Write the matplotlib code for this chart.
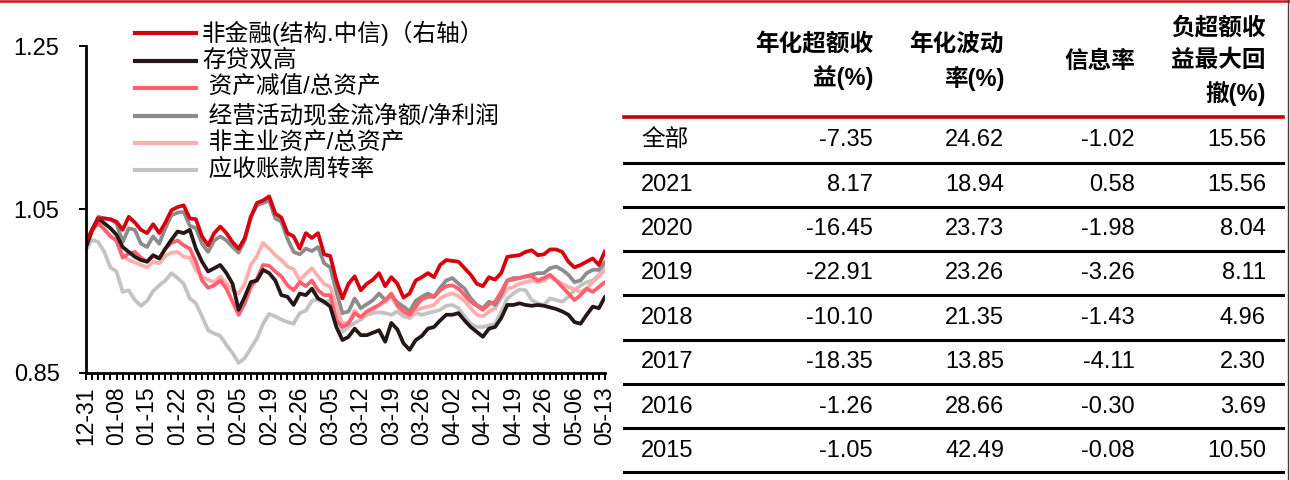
import matplotlib
matplotlib.use("Agg")
import matplotlib.pyplot as plt
from matplotlib.lines import Line2D

plt.rcParams['font.family'] = ['Liberation Sans', 'Noto Sans CJK SC', 'DejaVu Sans']
plt.rcParams['axes.unicode_minus'] = False

# ---------------- data ----------------
tick_labels = ["12-31", "01-08", "01-15", "01-22", "01-29", "02-05", "02-19", "02-26",
               "03-05", "03-12", "03-19", "03-26", "04-02", "04-12", "04-19", "04-26",
               "05-06", "05-13"]

red_nonfin = [1.010, 1.025, 1.039, 1.039, 1.038, 1.035, 1.025, 1.041, 1.034, 1.025, 1.021, 1.032, 1.021, 1.034, 1.049, 1.053, 1.055, 1.039, 1.038, 1.017, 1.006, 1.021, 1.029,
              1.021, 1.010, 1.002, 1.015, 1.041, 1.058, 1.061, 1.066, 1.045, 1.040, 1.021, 1.017, 1.002, 1.021, 1.015, 1.021, 0.995, 0.993, 0.963, 0.941, 0.959,
              0.968, 0.951, 0.959, 0.964, 0.972, 0.956, 0.967, 0.959, 0.942, 0.947, 0.963, 0.967, 0.972, 0.967, 0.982, 0.988, 0.987, 0.986, 0.978, 0.970, 0.959,
              0.956, 0.967, 0.964, 0.972, 0.992, 0.993, 0.994, 0.998, 1.000, 0.994, 0.995, 1.001, 1.001, 0.998, 0.986, 0.979, 0.982, 0.986, 0.990, 0.982, 0.999]

black_dual_high = [1.004, 1.025, 1.039, 1.033, 1.027, 1.019, 1.004, 0.998, 0.992, 0.988, 0.986, 0.994, 0.990, 1.002, 1.013, 1.023, 1.021, 1.025, 1.002, 0.986, 0.974, 0.978, 0.982,
                   0.972, 0.959, 0.927, 0.943, 0.961, 0.963, 0.976, 0.972, 0.963, 0.945, 0.943, 0.933, 0.947, 0.945, 0.953, 0.941, 0.937, 0.931, 0.906, 0.890, 0.894,
                   0.904, 0.896, 0.896, 0.899, 0.902, 0.888, 0.911, 0.903, 0.886, 0.878, 0.890, 0.895, 0.904, 0.906, 0.914, 0.921, 0.921, 0.923, 0.914, 0.906, 0.900,
                   0.894, 0.904, 0.906, 0.917, 0.933, 0.933, 0.935, 0.933, 0.932, 0.933, 0.932, 0.930, 0.928, 0.925, 0.921, 0.912, 0.910, 0.921, 0.931, 0.929, 0.943]

pink_impair = [1.008, 1.025, 1.033, 1.026, 1.017, 1.012, 0.991, 0.996, 0.998, 0.991, 0.986, 0.993, 0.990, 1.002, 1.009, 1.012, 1.006, 1.002, 0.986, 0.963, 0.954, 0.957, 0.963,
               0.953, 0.937, 0.921, 0.935, 0.955, 0.965, 0.982, 0.981, 0.974, 0.968, 0.957, 0.951, 0.961, 0.956, 0.963, 0.951, 0.945, 0.945, 0.914, 0.906, 0.910,
               0.923, 0.918, 0.925, 0.929, 0.933, 0.939, 0.947, 0.933, 0.925, 0.921, 0.931, 0.940, 0.943, 0.943, 0.951, 0.956, 0.957, 0.953, 0.945, 0.937, 0.932,
               0.927, 0.934, 0.937, 0.949, 0.963, 0.964, 0.966, 0.968, 0.968, 0.963, 0.966, 0.970, 0.963, 0.955, 0.947, 0.939, 0.945, 0.953, 0.949, 0.955, 0.961]

gray_cashflow = [1.004, 1.025, 1.041, 1.039, 1.038, 1.033, 1.010, 1.027, 1.025, 1.008, 1.004, 1.017, 1.008, 1.027, 1.043, 1.046, 1.047, 1.030, 1.027, 1.008, 0.998, 1.012, 1.017,
                 1.012, 1.004, 0.997, 1.012, 1.041, 1.055, 1.058, 1.061, 1.039, 1.035, 1.014, 0.998, 0.995, 1.002, 0.999, 1.004, 0.984, 0.979, 0.949, 0.923, 0.925,
                 0.941, 0.929, 0.934, 0.939, 0.947, 0.939, 0.945, 0.936, 0.931, 0.925, 0.938, 0.943, 0.947, 0.943, 0.954, 0.963, 0.966, 0.959, 0.953, 0.941, 0.933,
                 0.929, 0.937, 0.933, 0.945, 0.963, 0.966, 0.966, 0.968, 0.970, 0.972, 0.972, 0.978, 0.980, 0.976, 0.970, 0.961, 0.963, 0.972, 0.976, 0.976, 0.986]

lightpink_noncore = [1.004, 1.023, 1.033, 1.025, 1.017, 1.012, 0.994, 0.988, 0.985, 0.982, 0.979, 0.986, 0.984, 0.993, 0.997, 0.998, 0.992, 0.991, 0.976, 0.968, 0.964, 0.961, 0.968,
                     0.959, 0.951, 0.947, 0.959, 0.982, 0.993, 1.009, 1.002, 0.994, 0.988, 0.980, 0.977, 0.963, 0.971, 0.978, 0.968, 0.959, 0.955, 0.931, 0.910, 0.912,
                     0.926, 0.918, 0.922, 0.927, 0.933, 0.937, 0.943, 0.931, 0.923, 0.919, 0.926, 0.929, 0.931, 0.933, 0.941, 0.945, 0.947, 0.944, 0.938, 0.929, 0.921,
                     0.919, 0.925, 0.929, 0.941, 0.953, 0.955, 0.959, 0.961, 0.963, 0.961, 0.963, 0.968, 0.963, 0.959, 0.955, 0.952, 0.949, 0.953, 0.961, 0.968, 0.976]

lightgray_turnover = [1.000, 1.013, 1.010, 0.998, 0.979, 0.974, 0.949, 0.951, 0.939, 0.932, 0.938, 0.950, 0.957, 0.963, 0.972, 0.966, 0.959, 0.941, 0.935, 0.919, 0.902, 0.898, 0.895,
                      0.884, 0.874, 0.862, 0.868, 0.880, 0.892, 0.910, 0.922, 0.919, 0.915, 0.912, 0.910, 0.923, 0.926, 0.938, 0.940, 0.935, 0.939, 0.923, 0.900, 0.906,
                      0.911, 0.915, 0.921, 0.923, 0.924, 0.923, 0.921, 0.925, 0.919, 0.917, 0.923, 0.921, 0.923, 0.925, 0.927, 0.932, 0.933, 0.929, 0.919, 0.910, 0.906,
                      0.906, 0.908, 0.910, 0.925, 0.941, 0.947, 0.952, 0.951, 0.939, 0.935, 0.933, 0.941, 0.939, 0.937, 0.943, 0.951, 0.957, 0.961, 0.963, 0.970, 0.982]

series_labels = ["非金融(结构.中信)（右轴）", "存贷双高", " 资产减值/总资产",
                 " 经营活动现金流净额/净利润", " 非主业资产/总资产", " 应收账款周转率"]
series_colors = ["#D7000F", "#231815", "#FF6070", "#8C8C8C", "#FFAEAE", "#C3C3C3"]
series_values = [red_nonfin, black_dual_high, pink_impair, gray_cashflow,
                 lightpink_noncore, lightgray_turnover]

table_rows = ["全部", "2021", "2020", "2019", "2018", "2017", "2016", "2015"]
table_headers = ["年化超额收\n益(%)", "年化波动\n率(%)", "信息率", "负超额收\n益最大回\n撤(%)"]
ann_excess = [-7.35, 8.17, -16.45, -22.91, -10.10, -18.35, -1.26, -1.05]
ann_vol = [24.62, 18.94, 23.73, 23.26, 21.35, 13.85, 28.66, 42.49]
info_ratio = [-1.02, 0.58, -1.98, -3.26, -1.43, -4.11, -0.30, -0.08]
max_dd = [15.56, 15.56, 8.04, 8.11, 4.96, 2.30, 3.69, 10.50]

# ---------------- figure ----------------
W, H = 1290, 480
fig = plt.figure(figsize=(W / 100, H / 100), dpi=100)


def fx(x):
    return x / W


def fy(y):
    return 1 - y / H


ax = fig.add_axes([fx(86), fy(372.7), (605 - 86) / W, (372.7 - 46.2) / H])
xs = list(range(len(red_nonfin)))
for vals, color in reversed(list(zip(series_values, series_colors))):
    ax.plot(xs, vals, color=color, lw=2.7, solid_joinstyle='round', solid_capstyle='round')

ax.set_xlim(0, len(xs) - 1)
ax.set_ylim(0.85, 1.25)
ax.set_yticks([0.85, 1.05, 1.25])
ax.set_yticklabels(["0.85", "1.05", "1.25"])
ax.set_xticks(list(range(0, len(xs), 5)))
ax.set_xticklabels(tick_labels, rotation=90)
ax.set_xticks(xs, minor=True)
for s in ["top", "right"]:
    ax.spines[s].set_visible(False)
for s in ["left", "bottom"]:
    ax.spines[s].set_linewidth(2.0)
ax.tick_params(axis='both', which='both', direction='out', length=5, width=1.4, color='black')
ax.tick_params(axis='x', labelsize=16.5, pad=5)
ax.tick_params(axis='y', labelsize=17, pad=14)

# legend (manual placement)
legend_y = [33, 61, 88, 116, 143, 170]
for lab, col, y in zip(series_labels, series_colors, legend_y):
    fig.add_artist(Line2D([fx(135), fx(196)], [fy(y), fy(y)], color=col, lw=3.0,
                          transform=fig.transFigure))
    fig.text(fx(202), fy(y), lab, ha='left', va='center', fontsize=17)

# top red rule
fig.add_artist(Line2D([0, 1], [fy(1), fy(1)], color="#D0101A", lw=1.8, transform=fig.transFigure))
# right edge rule
fig.add_artist(Line2D([fx(1287.5), fx(1287.5)], [0, 1], color="#444444", lw=1.0, transform=fig.transFigure))

# ---------------- table ----------------
col_right = [873, 1004, 1135, 1266]
for hdr, xr in zip(table_headers, col_right):
    fig.text(fx(xr), fy(61.5), hdr, ha='right', va='center', fontsize=17,
             fontweight='bold', linespacing=1.5, multialignment='right')

fig.add_artist(Line2D([fx(624), fx(1283)], [fy(117), fy(117)], color="#C8000A", lw=2.6,
                      transform=fig.transFigure))
row_y = [140, 185, 229, 273, 318, 362, 407, 451]
sep_y = [163, 207, 251, 295, 340, 384, 428, 472]
for yy in sep_y:
    fig.add_artist(Line2D([fx(624), fx(1283)], [fy(yy), fy(yy)], color="black", lw=2.2,
                          transform=fig.transFigure))

for i, name in enumerate(table_rows):
    y = fy(row_y[i])
    fig.text(fx(641), y, name, ha='left', va='center', fontsize=17)
    for xr, col in zip(col_right, [ann_excess, ann_vol, info_ratio, max_dd]):
        fig.text(fx(xr), y, f"{col[i]:.2f}", ha='right', va='center', fontsize=17)

fig.savefig("out.png", dpi=100)
